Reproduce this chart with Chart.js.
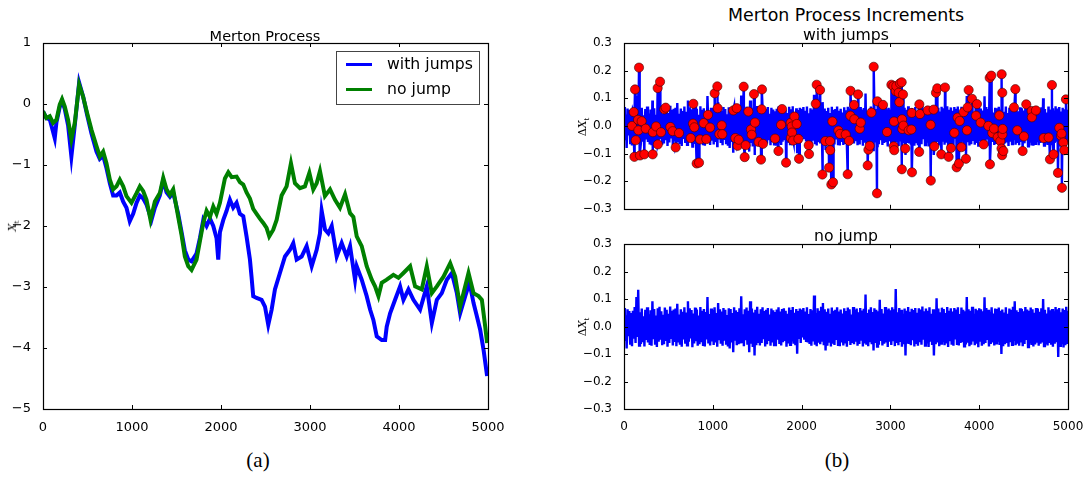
<!DOCTYPE html>
<html>
<head>
<meta charset="utf-8">
<script src="https://cdn.jsdelivr.net/npm/chart.js@4/dist/chart.umd.min.js"></script>
<style>
  body { margin: 0; background: #fff; }
  #page { position: relative; width: 1088px; height: 497px; font-family: "DejaVu Sans", sans-serif; color: #000; overflow: hidden; }
  canvas { position: absolute; }
  .lbl { position: absolute; white-space: nowrap; line-height: 1; transform: translate(-50%, -50%); }
  .ylab { position: absolute; white-space: nowrap; line-height: 1; font-family: "DejaVu Serif", serif; font-size: 11px; transform: translate(-50%, -50%) rotate(-90deg); }
  .cap { font-family: "Liberation Serif", serif; font-size: 21px; }
</style>
</head>
<body>
<div id="page">
  <canvas id="pathChart" width="510" height="405" style="left:0px; top:30px"></canvas>
  <canvas id="jumpIncChart" width="528" height="190" style="left:560px; top:30px"></canvas>
  <canvas id="plainIncChart" width="528" height="202" style="left:560px; top:233px"></canvas>

  <div class="lbl" style="left:265px; top:36px; font-size:14.5px">Merton Process</div>
  <div class="lbl" style="left:846px; top:16px; font-size:17.4px">Merton Process Increments</div>
  <div class="lbl" style="left:846px; top:35px; font-size:15.7px">with jumps</div>
  <div class="lbl" style="left:846px; top:236px; font-size:15.7px">no jump</div>
  <div class="ylab" style="left:14px; top:226px"><i>X</i><sub style="font-size:7px">t</sub></div>
  <div class="ylab" style="left:584px; top:127px">&Delta;<i>X</i><sub style="font-size:7px">t</sub></div>
  <div class="ylab" style="left:584px; top:327px">&Delta;<i>X</i><sub style="font-size:7px">t</sub></div>
  <div class="lbl cap" style="left:258px; top:460px">(a)</div>
  <div class="lbl cap" style="left:837px; top:460px">(b)</div>
</div>
<script>
// spacing (in steps) of the diffusion increment samples
var STEP = 10;

// path with jumps
var jumpPathT = [0, 38, 76, 132, 151, 188, 214, 244, 282, 319, 357, 406, 451, 496, 544, 601, 638, 676, 713, 751,
  788, 826, 863, 901, 938, 975, 1013, 1051, 1088, 1126, 1163, 1219, 1257, 1313, 1351, 1388, 1426, 1463, 1519, 1557,
  1594, 1632, 1669, 1725, 1763, 1801, 1838, 1876, 1913, 1950, 1969, 1988, 2026, 2063, 2100, 2137, 2175, 2212, 2250, 2287,
  2325, 2343, 2362, 2400, 2456, 2494, 2531, 2569, 2606, 2662, 2719, 2775, 2812, 2850, 2906, 2962, 3019, 3075, 3112, 3131,
  3169, 3206, 3244, 3300, 3356, 3412, 3450, 3506, 3525, 3581, 3637, 3675, 3712, 3750, 3806, 3844, 3862, 3900, 3956, 4012,
  4050, 4106, 4162, 4237, 4312, 4369, 4425, 4481, 4537, 4594, 4650, 4687, 4744, 4792, 4837, 4875, 4912, 4950, 4990];
var jumpPathX = [-0.12, -0.23, -0.25, -0.56, -0.30, -0.05, 0.05, -0.08, -0.35, -0.86, -0.35, 0.35, 0.12, -0.18, -0.48, -0.78, -0.90, -0.85, -1.05, -1.30,
  -1.50, -1.50, -1.45, -1.60, -1.70, -1.92, -1.80, -1.62, -1.50, -1.55, -1.65, -1.90, -1.70, -1.50, -1.25, -1.45, -1.52, -1.45, -1.80, -2.10,
  -2.40, -2.55, -2.58, -2.45, -2.20, -1.90, -2.00, -1.88, -2.00, -2.20, -2.55, -2.10, -1.90, -1.75, -1.57, -1.70, -1.62, -1.80, -1.84, -2.17,
  -2.55, -2.83, -3.15, -3.18, -3.21, -3.32, -3.62, -3.37, -3.04, -2.77, -2.50, -2.39, -2.28, -2.55, -2.50, -2.33, -2.66, -2.39, -2.12, -1.75,
  -2.06, -2.12, -2.00, -2.50, -2.28, -2.50, -2.33, -2.88, -2.66, -2.88, -3.15, -3.37, -3.54, -3.81, -3.87, -3.87, -3.65, -3.43, -3.21, -2.99,
  -3.21, -3.04, -3.21, -3.37, -2.99, -3.59, -3.21, -3.10, -2.88, -2.77, -3.10, -3.43, -3.15, -2.93, -3.26, -3.48, -3.70, -4.03, -4.46];

// path without jumps
var plainPathT = [0, 38, 76, 113, 151, 188, 214, 244, 282, 319, 357, 406, 451, 496, 544, 601, 638, 676, 713, 751,
  788, 826, 863, 901, 938, 994, 1051, 1088, 1126, 1163, 1208, 1257, 1313, 1351, 1388, 1426, 1463, 1519, 1557, 1594,
  1632, 1669, 1725, 1763, 1801, 1838, 1876, 1913, 1950, 1988, 2044, 2082, 2120, 2175, 2212, 2250, 2287, 2325, 2362, 2400,
  2437, 2475, 2512, 2542, 2587, 2625, 2681, 2737, 2786, 2831, 2887, 2943, 2993, 3037, 3075, 3112, 3168, 3225, 3281, 3337,
  3394, 3450, 3487, 3525, 3581, 3637, 3694, 3731, 3769, 3806, 3862, 3937, 3994, 4050, 4125, 4181, 4256, 4312, 4369, 4425,
  4500, 4575, 4631, 4687, 4725, 4781, 4837, 4894, 4931, 4969, 4990];
var plainPathX = [-0.12, -0.23, -0.20, -0.31, -0.26, -0.01, 0.08, -0.04, -0.26, -0.58, -0.31, 0.32, 0.12, -0.15, -0.42, -0.69, -0.86, -0.78, -0.97, -1.24,
  -1.40, -1.35, -1.24, -1.35, -1.51, -1.62, -1.46, -1.35, -1.43, -1.57, -1.90, -1.60, -1.46, -1.21, -1.40, -1.49, -1.40, -1.85, -2.15, -2.50,
  -2.66, -2.72, -2.55, -2.25, -1.95, -1.75, -1.85, -1.68, -1.80, -1.62, -1.22, -1.12, -1.20, -1.19, -1.28, -1.32, -1.45, -1.55, -1.72, -1.80,
  -1.88, -1.95, -2.03, -2.17, -2.06, -1.90, -1.50, -1.35, -0.97, -1.30, -1.38, -1.35, -1.13, -1.40, -1.30, -1.10, -1.51, -1.40, -1.57, -1.70,
  -1.48, -1.79, -1.85, -2.17, -2.33, -2.66, -2.88, -2.99, -3.15, -2.93, -2.88, -2.80, -2.85, -2.77, -2.66, -2.99, -3.04, -2.66, -3.10, -2.99,
  -2.83, -2.61, -2.83, -3.32, -3.10, -2.77, -3.10, -3.15, -3.21, -3.65, -3.92];

// diffusion increments, one every STEP steps (shared by both right panels)
var increments = [
  0.068, -0.052, 0.041, -0.080, 0.063, -0.035, 0.057, -0.066, 0.049, -0.071,
  0.058, -0.044, 0.071, -0.060, 0.108, -0.038, 0.134, -0.069, 0.052, -0.063,
  0.066, -0.057, 0.038, -0.072, 0.061, -0.049, 0.070, -0.058, 0.045, -0.067,
  0.059, -0.070, 0.092, -0.046, 0.064, -0.062, 0.040, -0.074, 0.067, -0.055,
  0.072, -0.048, 0.056, -0.068, 0.043, -0.064, 0.069, -0.052, 0.061, -0.073,
  0.047, -0.060, 0.073, -0.041, 0.058, -0.069, 0.062, -0.056, 0.066, -0.071,
  0.083, -0.058, 0.044, -0.066, 0.063, -0.073, 0.054, -0.047, 0.070, -0.062,
  0.051, -0.068, 0.092, -0.055, 0.067, -0.043, 0.060, -0.075, 0.048, -0.061,
  0.069, -0.053, 0.062, -0.070, 0.040, -0.064, 0.071, -0.057, 0.058, -0.066,
  0.064, -0.072, 0.053, -0.047, 0.108, -0.061, 0.046, -0.069, 0.066, -0.054,
  0.060, -0.067, 0.070, -0.058, 0.049, -0.073, 0.086, -0.045, 0.063, -0.062,
  0.055, -0.070, 0.068, -0.051, 0.061, -0.066, 0.042, -0.072, 0.067, -0.080,
  0.064, -0.058, 0.049, -0.093, 0.070, -0.047, 0.059, -0.068, 0.053, -0.064,
  0.067, -0.061, 0.110, -0.056, 0.045, -0.071, 0.063, -0.050, 0.069, -0.066,
  0.058, -0.093, 0.092, -0.062, 0.066, -0.074, 0.051, -0.105, 0.061, -0.068,
  0.072, -0.055, 0.047, -0.069, 0.063, -0.060, 0.070, -0.046, 0.057, -0.072,
  0.061, -0.064, 0.068, -0.052, 0.044, -0.070, 0.066, -0.058, 0.059, -0.067,
  0.053, -0.071, 0.062, -0.048, 0.070, -0.063, 0.055, -0.069, 0.064, -0.057,
  0.067, -0.052, 0.058, -0.073, 0.047, -0.061, 0.069, -0.066, 0.060, -0.054,
  0.071, -0.062, 0.050, -0.068, 0.064, -0.099, 0.057, -0.045, 0.066, -0.060,
  0.062, -0.040, 0.068, -0.048, 0.055, -0.052, 0.070, -0.058, 0.046, -0.063,
  0.064, -0.070, 0.059, -0.054, 0.113, -0.066, 0.049, -0.071, 0.067, -0.059,
  0.058, -0.064, 0.072, -0.051, 0.086, -0.068, 0.063, -0.087, 0.054, -0.070,
  0.066, -0.059, 0.047, -0.072, 0.069, -0.062, 0.058, -0.067, 0.061, -0.049,
  0.070, -0.066, 0.055, -0.071, 0.062, -0.058, 0.048, -0.069, 0.067, -0.061,
  0.057, -0.073, 0.069, -0.052, 0.063, -0.067, 0.044, -0.060, 0.071, -0.064,
  0.060, -0.055, 0.066, -0.070, 0.052, -0.063, 0.068, -0.047, 0.059, -0.072,
  0.065, -0.061, 0.117, -0.066, 0.049, -0.071, 0.062, -0.057, 0.070, -0.064,
  0.053, -0.087, 0.067, -0.060, 0.061, -0.073, 0.056, -0.066, 0.098, -0.052,
  0.064, -0.069, 0.048, -0.062, 0.071, -0.058, 0.060, -0.074, 0.066, -0.055,
  0.059, -0.067, 0.070, -0.049, 0.063, -0.071, 0.137, -0.060, 0.052, -0.068,
  0.068, -0.056, 0.061, -0.073, 0.047, -0.064, 0.066, -0.105, 0.058, -0.062,
  0.071, -0.059, 0.054, -0.068, 0.065, -0.050, 0.060, -0.072, 0.068, -0.063,
  0.050, -0.070, 0.067, -0.057, 0.062, -0.066, 0.073, -0.048, 0.056, -0.069,
  0.066, -0.061, 0.058, -0.074, 0.070, -0.055, 0.047, -0.067, 0.063, -0.105,
  0.060, -0.064, 0.103, -0.058, 0.066, -0.071, 0.052, -0.062, 0.069, -0.057,
  0.064, -0.068, 0.049, -0.061, 0.071, -0.074, 0.058, -0.053, 0.067, -0.066,
  0.055, -0.070, 0.068, -0.047, 0.062, -0.063, 0.070, -0.069, 0.046, -0.060,
  0.069, -0.057, 0.061, -0.072, 0.056, -0.065, 0.108, -0.059, 0.063, -0.071,
  0.058, -0.066, 0.072, -0.054, 0.047, -0.068, 0.065, -0.062, 0.059, -0.075,
  0.067, -0.051, 0.063, -0.070, 0.056, -0.064, 0.107, -0.060, 0.068, -0.049,
  0.061, -0.072, 0.054, -0.063, 0.070, -0.058, 0.048, -0.069, 0.066, -0.061,
  0.064, -0.055, 0.069, -0.067, 0.058, -0.100, 0.062, -0.071, 0.051, -0.064,
  0.070, -0.060, 0.047, -0.073, 0.066, -0.057, 0.061, -0.066, 0.072, -0.052,
  0.092, -0.068, 0.059, -0.062, 0.053, -0.070, 0.067, -0.058, 0.064, -0.071,
  0.056, -0.063, 0.071, -0.049, 0.062, -0.074, 0.058, -0.061, 0.069, -0.067,
  0.063, -0.072, 0.050, -0.065, 0.068, -0.059, 0.066, -0.070, 0.054, -0.062,
  0.067, -0.058, 0.100, -0.071, 0.061, -0.064, 0.048, -0.069, 0.070, -0.060,
  0.059, -0.066, 0.064, -0.073, 0.056, -0.062, 0.071, -0.057, 0.063, -0.111,
  0.068, -0.070, 0.052, -0.064, 0.066, -0.076, 0.060, -0.068, 0.072, -0.063,
  0.058];

// jump times and the increment observed at each of them
var jumpT = [90, 109, 117, 124, 132, 158, 162, 169, 180, 199, 229, 244, 323, 325, 361, 379, 381, 406, 417, 454,
  469, 522, 548, 582, 620, 751, 777, 781, 792, 818, 845, 856, 897, 927, 946, 969, 1021, 1051, 1055, 1074,
  1100, 1107, 1231, 1254, 1269, 1280, 1291, 1348, 1359, 1370, 1400, 1430, 1438, 1464, 1475, 1516, 1543, 1550, 1554, 1565,
  1701, 1739, 1769, 1780, 1825, 1877, 1879, 1889, 1892, 1904, 1919, 1945, 1964, 1971, 2080, 2084, 2159, 2170, 2208, 2234,
  2268, 2309, 2320, 2322, 2335, 2347, 2354, 2414, 2433, 2497, 2519, 2534, 2549, 2551, 2591, 2594, 2636, 2654, 2666, 2744,
  2752, 2767, 2786, 2812, 2849, 2853, 2917, 2962, 3011, 3033, 3037, 3041, 3043, 3060, 3067, 3093, 3101, 3108, 3127, 3129,
  3131, 3135, 3142, 3146, 3168, 3206, 3236, 3240, 3243, 3324, 3326, 3333, 3420, 3453, 3455, 3487, 3495, 3513, 3528, 3573,
  3615, 3656, 3682, 3720, 3746, 3757, 3772, 3780, 3799, 3825, 3851, 3862, 3870, 3881, 3919, 3964, 3975, 4016, 4050, 4103,
  4118, 4121, 4136, 4148, 4166, 4208, 4227, 4238, 4251, 4253, 4258, 4260, 4262, 4264, 4272, 4392, 4407, 4429, 4489, 4504,
  4530, 4591, 4593, 4639, 4726, 4782, 4797, 4819, 4838, 4887, 4902, 4921, 4928, 4932, 4947, 4958, 4977];
var jumpDX = [0.000, 0.050, -0.112, 0.132, -0.052, 0.022, -0.016, 0.211, -0.107, 0.017, -0.103, -0.010, -0.103, -0.023, -0.002, 0.137, -0.067, 0.160, -0.023, 0.060,
  0.066, -0.004, -0.019, -0.078, -0.026, -0.044, 0.008, 0.080, -0.005, -0.136, -0.133, -0.049, 0.010, -0.048, 0.040, -0.006, 0.118, 0.143, 0.064, -0.030,
  0.002, -0.030, 0.056, -0.044, 0.064, -0.072, -0.050, 0.142, -0.113, -0.070, 0.052, -0.013, -0.032, 0.115, 0.012, -0.058, -0.122, 0.060, 0.132, -0.065,
  -0.046, -0.091, 0.004, 0.061, -0.133, 0.011, -0.044, -0.002, -0.024, -0.053, 0.034, 0.007, -0.047, -0.119, -0.070, -0.102, 0.080, 0.149, 0.130, -0.176,
  -0.055, -0.151, -0.055, -0.088, -0.212, 0.016, -0.204, -0.017, -0.029, -0.031, -0.175, -0.054, 0.037, 0.127, 0.076, 0.024, 0.114, -0.010, 0.012, -0.143,
  -0.086, -0.072, 0.048, 0.214, -0.244, 0.089, 0.076, -0.022, 0.149, 0.144, -0.074, 0.016, -0.088, 0.126, 0.144, 0.120, 0.086, 0.154, 0.158, -0.157,
  0.024, -0.011, 0.114, 0.001, -0.082, -0.016, -0.013, 0.047, -0.168, -0.094, 0.078, 0.043, 0.056, 0.004, -0.198, 0.059, -0.074, 0.120, 0.136, -0.103,
  0.139, -0.112, -0.080, -0.025, -0.150, 0.030, -0.136, 0.018, -0.077, 0.050, -0.119, -0.016, 0.067, 0.130, 0.098, 0.037, 0.079, 0.012, -0.067, 0.000,
  0.174, -0.139, 0.182, -0.026, -0.010, -0.041, 0.038, -0.055, -0.082, 0.187, -0.106, 0.120, -0.031, -0.011, -0.091, 0.067, 0.133, -0.016, -0.091, -0.038,
  0.078, 0.054, 0.031, 0.056, -0.044, -0.042, -0.121, 0.148, -0.103, -0.170, -0.007, -0.036, -0.028, -0.224, -0.060, -0.088, 0.096];

var BLUE = '#0000ff', GREEN = '#008000', RED = '#ff0000';

function pairs(ts, vs) {
  return ts.map(function (t, i) { return { x: t, y: vs[i] }; });
}

function diffusionPoints() {
  return increments.map(function (v, i) { return { x: i * STEP, y: v }; });
}

function minusLabel(decimals) {
  return function (v) {
    if (Math.abs(v) < 1e-9) v = 0;
    return (v < 0 ? '\u2212' : '') + Math.abs(v).toFixed(decimals);
  };
}

// matplotlib-style frame: black box with ticks pointing inwards on all four sides
var innerTicks = {
  id: 'innerTicks',
  afterDatasetsDraw: function (chart) {
    var a = chart.chartArea, ctx = chart.ctx, xs = chart.scales.x, ys = chart.scales.y;
    ctx.save();
    ctx.strokeStyle = '#000';
    ctx.lineWidth = 1;
    ctx.beginPath();
    xs.ticks.forEach(function (t) {
      var p = Math.round(xs.getPixelForValue(t.value)) + 0.5;
      ctx.moveTo(p, a.top); ctx.lineTo(p, a.top + 4);
      ctx.moveTo(p, a.bottom); ctx.lineTo(p, a.bottom - 4);
    });
    ys.ticks.forEach(function (t) {
      var p = Math.round(ys.getPixelForValue(t.value)) + 0.5;
      ctx.moveTo(a.left, p); ctx.lineTo(a.left + 4, p);
      ctx.moveTo(a.right, p); ctx.lineTo(a.right - 4, p);
    });
    ctx.stroke();
    ctx.lineWidth = 1.2;
    ctx.strokeRect(Math.round(a.left) + 0.5, Math.round(a.top) + 0.5, Math.round(a.width), Math.round(a.height));
    ctx.restore();
  }
};

// legend box in the upper right corner of the path panel
var boxedLegend = {
  id: 'boxedLegend',
  afterDraw: function (chart) {
    var a = chart.chartArea, ctx = chart.ctx;
    var x0 = a.right - 152, y0 = a.top + 8, w = 143, h = 53;
    ctx.save();
    ctx.fillStyle = '#fff';
    ctx.fillRect(x0, y0, w, h);
    ctx.strokeStyle = '#444';
    ctx.lineWidth = 1;
    ctx.strokeRect(x0 + 0.5, y0 + 0.5, w, h);
    ctx.font = '15.7px "DejaVu Sans"';
    ctx.textBaseline = 'middle';
    chart.data.datasets.forEach(function (ds, i) {
      var y = y0 + 13.5 + i * 25;
      ctx.strokeStyle = ds.borderColor;
      ctx.lineWidth = 3;
      ctx.beginPath();
      ctx.moveTo(x0 + 10, y); ctx.lineTo(x0 + 36, y);
      ctx.stroke();
      ctx.fillStyle = '#000';
      ctx.fillText(ds.label, x0 + 51, y);
    });
    ctx.restore();
  }
};

// place the plot area of a canvas at a fixed spot of the page
function frame(box, area, xAxisH) {
  return {
    padding: { left: 0, top: area.top - box.top, right: box.left + box.width - area.right, bottom: box.top + box.height - area.bottom - xAxisH },
    yWidth: area.left - box.left,
    xHeight: xAxisH
  };
}

function axes(f, yMin, yMax, yStep, decimals, fontSize, showX) {
  return {
    x: {
      type: 'linear', min: 0, max: 5000,
      grid: { display: false }, border: { display: false },
      ticks: { display: showX, stepSize: 1000, padding: 3, color: '#000', font: { family: 'DejaVu Sans', size: fontSize }, maxRotation: 0,
        callback: function (v) { return String(v); } },
      afterFit: function (s) { s.height = f.xHeight; }
    },
    y: {
      min: yMin, max: yMax,
      grid: { display: false }, border: { display: false },
      ticks: { stepSize: yStep, padding: 4, color: '#000', font: { family: 'DejaVu Sans', size: fontSize }, callback: minusLabel(decimals) },
      afterFit: function (s) { s.width = f.yWidth; }
    }
  };
}

function baseOptions(f, scales) {
  return {
    responsive: false,
    animation: false,
    devicePixelRatio: 1,
    layout: { padding: f.padding },
    plugins: { legend: { display: false }, tooltip: { enabled: false }, title: { display: false } },
    elements: { point: { radius: 0 }, line: { tension: 0 } },
    scales: scales
  };
}

// (a) the two sample paths
var fa = frame({ left: 0, top: 30, width: 510, height: 405 }, { left: 43, top: 43, right: 488, bottom: 409 }, 22);
new Chart(document.getElementById('pathChart'), {
  type: 'line',
  data: {
    datasets: [
      { label: 'with jumps', data: pairs(jumpPathT, jumpPathX), borderColor: BLUE, borderWidth: 4, order: 1 },
      { label: 'no jump', data: pairs(plainPathT, plainPathX), borderColor: GREEN, borderWidth: 4, order: 0 }
    ]
  },
  options: baseOptions(fa, axes(fa, -5, 1, 1, 0, 13, true)),
  plugins: [innerTicks, boxedLegend]
});

// (b, top) increments with the jumps marked
var withJumps = diffusionPoints().concat(pairs(jumpT, jumpDX)).sort(function (p, q) { return p.x - q.x; });
var fb = frame({ left: 560, top: 30, width: 528, height: 190 }, { left: 624, top: 43, right: 1068, bottom: 210 }, 0);
new Chart(document.getElementById('jumpIncChart'), {
  type: 'line',
  data: {
    datasets: [
      { label: 'increments', data: withJumps, borderColor: BLUE, borderWidth: 2.4, order: 1 },
      { label: 'jumps', data: pairs(jumpT, jumpDX), showLine: false, pointRadius: 4.6,
        pointBackgroundColor: RED, pointBorderColor: '#400000', pointBorderWidth: 0.6, order: 0 }
    ]
  },
  options: baseOptions(fb, axes(fb, -0.3, 0.3, 0.1, 1, 12, false)),
  plugins: [innerTicks]
});

// (b, bottom) diffusion increments only
var fc = frame({ left: 560, top: 233, width: 528, height: 202 }, { left: 624, top: 243, right: 1068, bottom: 409 }, 22);
new Chart(document.getElementById('plainIncChart'), {
  type: 'line',
  data: {
    datasets: [
      { label: 'increments', data: diffusionPoints(), borderColor: BLUE, borderWidth: 2.4 }
    ]
  },
  options: baseOptions(fc, axes(fc, -0.3, 0.3, 0.1, 1, 12, true)),
  plugins: [innerTicks]
});
</script>
</body>
</html>
